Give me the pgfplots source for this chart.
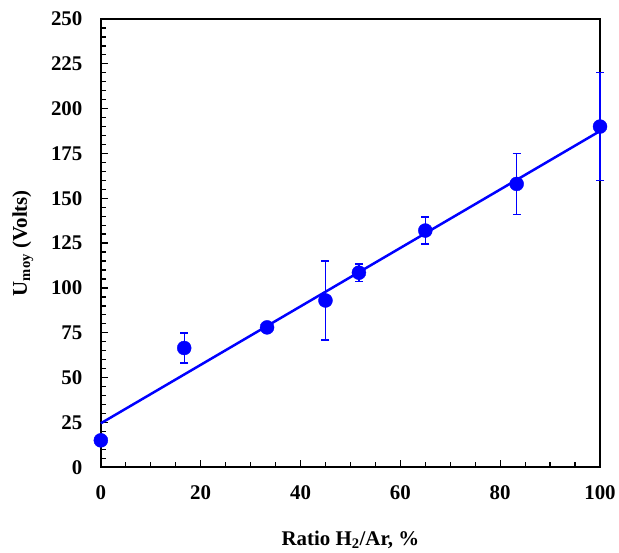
\documentclass[border=0pt]{standalone}
\usepackage{pgfplots}
\pgfplotsset{compat=1.18}
\usepackage{fontspec}
\setmainfont{Liberation Serif}
\definecolor{ptblue}{RGB}{0,0,255}
\begin{document}
\begin{tikzpicture}
\begin{axis}[
  set layers=standard,
  at={(0,0)}, anchor=south west,
  scale only axis, width=500bp, height=449bp,
  xmin=0, xmax=100, ymin=0, ymax=250,
  xtick={0,20,...,100}, minor x tick num=3,
  ytick={0,25,...,250}, minor y tick num=4,
  xtick pos=bottom, ytick pos=left,
  tick align=inside,
  major tick length=7bp, minor tick length=5bp,
  every tick/.style={black, line width=1.3pt},
  axis line style={black, line width=2.2pt},
  font=\bfseries\fontsize{21}{24}\selectfont,
  /pgf/number format/assume math mode=true,
  xticklabel style={yshift=-15bp},
  yticklabel style={xshift=-15bp},
  xlabel={Ratio H\textsubscript{2}/Ar, \%},
  ylabel={U\textsubscript{moy} (Volts)},
  xlabel style={yshift=-24bp},
  ylabel style={yshift=11bp},
  clip=false,
]
\addplot[ptblue, line width=2.5pt, on layer=axis foreground] coordinates {(0,24.5) (100,187.5)};
\addplot[ptblue, only marks, mark=*, mark size=7bp, on layer=axis foreground,
  mark options={fill=ptblue, draw=ptblue},
  error bars/.cd, y dir=both, y explicit,
  error bar style={ptblue, line width=1.3pt},
  error mark options={rotate=90, ptblue, mark size=4bp, line width=1.3pt}]
  coordinates {
  (0,15) +- (0,0)
  (16.7,66.5) +- (0,8.3)
  (33.3,78) +- (0,1.5)
  (45,93) +- (0,22)
  (51.7,108.5) +- (0,4.8)
  (65,132) +- (0,7.5)
  (83.3,158) +- (0,17)
  (100,190) +- (0,30)
  };
\end{axis}
\path (-101bp,-85bp) rectangle (518bp,468bp);
\end{tikzpicture}
\end{document}
